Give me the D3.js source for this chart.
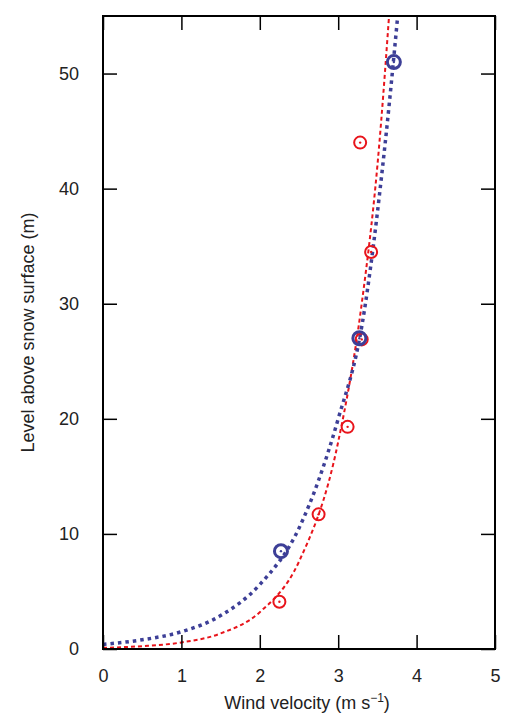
<!DOCTYPE html><html><head><script src="https://cdn.jsdelivr.net/npm/d3@7"></script>
<style>body{margin:0;background:#fff}text{font-family:"Liberation Sans",Arial,sans-serif}</style></head><body>
<svg id="c" width="505" height="720"></svg>
<script>
const xTicks=[0,1,2,3,4,5], yTicks=[0,10,20,30,40,50];
const redU=[2.25,2.75,3.12,3.30,3.42,3.28], redZ=[4.1,11.7,19.3,26.9,34.5,44];
const blueU=[2.27,3.27,3.71], blueZ=[8.5,27,51];
const blueFitU=[0,0.5,1,1.5,2,2.5,3,3.3,3.6,3.8], blueFitZ=[0.4,0.8,1.5,2.9,5.6,10.5,20,28,44,58];
const redFitU=[0,0.5,1,1.5,2,2.5,3,3.3,3.5,3.7], redFitZ=[0.1,0.25,0.57,1.35,3.2,7.6,18,30,42,60];
const svg=d3.select("#c"), L=103,R=495,T=16,B=649;
const x=d3.scaleLinear().domain([0,5]).range([L,R]);
const y=d3.scaleLinear().domain([0,55]).range([B,T]);
const defs=svg.append("defs");defs.append("clipPath").attr("id","cp").append("rect").attr("x",L).attr("y",T).attr("width",R-L).attr("height",B-T);
const line=d3.line().x(d=>x(d[0])).y(d=>y(d[1])).curve(d3.curveMonotoneX);
const g=svg.append("g").attr("clip-path","url(#cp)");
g.append("path").attr("d",line(redFitU.map((u,i)=>[u,redFitZ[i]]))).attr("fill","none").attr("stroke","#e8141b").attr("stroke-width",2).attr("stroke-dasharray","4,3");
g.append("path").attr("d",line(blueFitU.map((u,i)=>[u,blueFitZ[i]]))).attr("fill","none").attr("stroke","#3d3f97").attr("stroke-width",3.5).attr("stroke-dasharray","3.5,4");
function pts(U,Z,col,r,w){U.forEach((u,i)=>{svg.append("circle").attr("cx",x(u)).attr("cy",y(Z[i])).attr("r",r).attr("fill","none").attr("stroke",col).attr("stroke-width",w);
svg.append("circle").attr("cx",x(u)).attr("cy",y(Z[i])).attr("r",1.2).attr("fill",col);});}
pts(redU,redZ,"#e8141b",6,2);
pts(blueU,blueZ,"#3d3f97",6.5,3);
const ax=svg.append("g");
ax.append("g").attr("transform",`translate(0,${B})`).call(d3.axisBottom(x).tickValues(xTicks).tickSize(-14).tickPadding(20).tickFormat(d3.format("d")));
ax.append("g").attr("transform",`translate(0,${T})`).call(d3.axisTop(x).tickValues(xTicks).tickSize(-14).tickFormat(""));
ax.append("g").attr("transform",`translate(${L},0)`).call(d3.axisLeft(y).tickValues(yTicks).tickSize(-14).tickPadding(24));
ax.append("g").attr("transform",`translate(${R},0)`).call(d3.axisRight(y).tickValues(yTicks).tickSize(-14).tickFormat(""));
ax.selectAll(".domain").remove();ax.selectAll("line").attr("stroke","#000").attr("stroke-width",1.5);
ax.selectAll("text").attr("fill","#222").attr("font-size","18px").attr("font-family","Liberation Sans, Arial, sans-serif");
svg.append("rect").attr("x",L).attr("y",T).attr("width",R-L).attr("height",B-T).attr("fill","none").attr("stroke","#000").attr("stroke-width",2);
const xl=svg.append("text").attr("x",(L+R)/2+8).attr("y",709).attr("text-anchor","middle").style("font-size","18px").attr("fill","#222").text("Wind velocity (m s");
xl.append("tspan").attr("dy",-7).style("font-size","12px").text("−1");xl.append("tspan").attr("dy",7).text(")");
svg.append("text").attr("transform",`translate(34,${(T+B)/2}) rotate(-90)`).attr("text-anchor","middle").style("font-size","18px").attr("fill","#222").text("Level above snow surface (m)");
</script></body></html>
